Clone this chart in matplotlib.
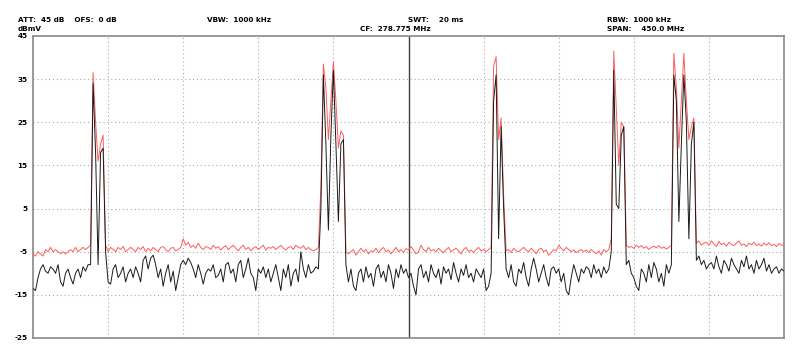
import numpy as np
import matplotlib
matplotlib.use("Agg")
import matplotlib.pyplot as plt

# ---- data ----
center_mhz = 278.775
span_mhz = 450.0
n_points = 301
header_texts = [
    ("ATT:  45 dB    OFS:  0 dB", 18, 20),
    ("VBW:  1000 kHz", 207, 20),
    ("SWT:    20 ms", 408, 20),
    ("RBW:  1000 kHz", 607, 20),
    ("dBmV", 18, 29),
    ("CF:  278.775 MHz", 360, 29),
    ("SPAN:    450.0 MHz", 607, 29),
]
y_ticks = [45, 35, 25, 15, 5, -5, -15, -25]

# max-hold trace (red)
trace_max = [
    -5.5, -6, -5, -5.5, -6, -4.5, -5, -4, -5, -4.5,
    -5, -5.5, -5, -5.5, -5, -4.5, -5, -4, -5, -4.5,
    -4, -4.5, -4, -3.5, 36.5, 25, 16, 20, 22, -3.5,
    -5, -4, -4.5, -5, -4, -4.5, -3.8, -5, -4.5, -4,
    -4.5, -5, -4, -4.5, -3.8, -5, -4.2, -4.8, -4, -4.5,
    -5, -4, -3.8, -4.5, -5, -4.2, -4, -4.8, -4.5, -4,
    -2, -3.5, -2.8, -4, -3.5, -4.2, -3, -4, -4.5, -3.8,
    -4, -4.5, -3.5, -4.2, -3.8, -4.6, -4, -3.6, -4.5, -4,
    -3.5, -4.2, -4.8, -4, -3.5, -4.5, -4, -4.8, -4.2, -3.8,
    -4.5, -4, -3.5, -4.6, -4, -4.2, -3.8, -4.5, -4, -3.5,
    -4.2, -4.6, -4, -3.8, -4.5, -3.5, -4, -4.2, -3.6, -4.5,
    -4, -4.5, -4.8, -4.5, -4, 10, 38.5, 33, 21, 30,
    39, 30, 19, 23, 22, -5, -5.5, -5, -4.5, -5.8,
    -5, -4.2, -5, -4.5, -5.5, -4.8, -5, -4.2, -5.2, -4.5,
    -4, -5, -4.6, -5.5, -4.8, -4, -5, -4.5, -5.2, -4.3,
    -4.5, -3.8, -4.6, -5.5, -5, -3.5, -4.5, -5, -4, -4.8,
    -4.5, -5, -4.2, -4.8, -5.2, -4.5, -4, -5, -4.6, -4.2,
    -4.8, -5.5, -4.5, -4, -5, -4.6, -5.2, -4.5, -4, -4.8,
    -4.5, -5, -4.5, -4, 38, 40.2, 21, 26, 8, -4.8,
    -4.5, -5.2, -4.2, -4.8, -5, -4.5, -4, -4.6, -5, -4.2,
    -4.8, -5.5, -4.5, -4.2, -5, -4.6, -5.8, -5.2, -4.5, -4.8,
    -3.5, -4.2, -4.8, -4, -4.5, -5, -4.6, -5.2, -4.8, -4.5,
    -5, -4.6, -5.2, -4.5, -5, -5.5, -4.8, -5.8, -4.5, -5,
    -4.5, -2, 41.5, 28, 15, 25, 24, -3.5, -4, -3.8,
    -4.2, -3.5, -4, -3.6, -4.2, -3.8, -4.5, -4, -3.7, -4.1,
    -3.6, -4.2, -3.9, -4.4, -4, -3.5, 41, 33, 19, 30,
    41, 30, 21, 24, 26, -3, -2.5, -3.5, -3, -2.8,
    -3.5, -2.5, -3.2, -3.8, -2.6, -3.4, -3, -3.7, -2.8, -3.3,
    -3.6, -3, -2.5, -3.5, -3.2, -3.8, -3, -3.4, -2.8, -3.6,
    -3.2, -3.7, -3, -3.5, -2.9, -3.6, -3.3, -3.8, -3.1, -3.5, -3.4,
]

# live trace (black)
trace_live = [
    -13.5, -14, -11, -9, -8, -9.5, -10, -8.5, -9, -10,
    -8, -12, -13, -10, -9, -11, -12.5, -10, -9, -11,
    -8.5, -9.5, -8, -8, 34, 18, -8, 18, 19, -5,
    -12, -12.5, -9, -8, -11, -10, -8.5, -12, -10, -9,
    -11, -8.5, -10, -12, -7, -6, -9, -6.5, -5.8, -8,
    -11, -9, -13, -10, -8, -12, -9.5, -14, -11, -8,
    -7, -8, -6.5, -7.5, -9, -11, -8, -10, -12.5, -10,
    -9, -9.5, -8, -11, -10.5, -9, -12, -8, -7.5, -10,
    -9, -12, -8, -7, -11, -9, -6.5, -10, -11, -14,
    -9, -10, -8.5, -11, -9, -12, -10, -8, -11, -14,
    -9, -11, -8, -13, -10, -9, -12, -5, -9, -11,
    -8, -10, -9.5, -8.5, -9, 5, 36, 20, 0, 22,
    37, 20, 2, 20, 21, -8, -12, -9, -13, -14,
    -10, -9, -12, -8.5, -11, -10, -13, -9, -8, -11,
    -9.5, -12, -8, -10, -13.5, -9, -11, -8, -10, -9,
    -11, -10, -13, -15, -9, -8, -11, -9.5, -12, -8,
    -10, -11, -9, -12.5, -8.5, -10, -9, -11.5, -7.5, -10,
    -12, -9, -10.5, -8, -11, -10, -12, -9, -10, -11,
    -9, -14, -13, -10, 30, 36, -2, 24, 5, -9,
    -11, -8, -12, -13, -9, -10, -7.5, -11, -13, -9,
    -6.5, -9, -12, -10, -8, -11, -13, -9, -8.5, -10,
    -9, -12, -10, -14, -15, -11, -8, -10, -12, -9,
    -10, -8.5, -9, -11, -8, -10, -9, -11, -8.5, -10,
    -9, -5, 37, 6, 5, 22, 24, -8, -7, -10,
    -11, -13, -14, -9, -10, -12, -8, -11, -7.5, -9,
    -12, -10, -13, -8, -10, -8, 36, 30, 2, 20,
    36, 25, -2, 20, 25, -7, -6, -8, -7, -9,
    -8, -7.5, -9, -6, -8.5, -10, -7, -8, -9.5, -6.5,
    -8, -9, -10, -7, -8.5, -6, -9, -8, -10, -7,
    -9, -8, -6.5, -9.5, -8, -10, -9, -8.5, -10, -9, -9.5,
]

# ---- figure ----
W, H = 800, 356
fig = plt.figure(figsize=(W / 100, H / 100), dpi=100)
ax = fig.add_axes([33 / W, 1 - 338 / H, (784 - 33) / W, (338 - 36) / H])

f_start = center_mhz - span_mhz / 2
f_stop = center_mhz + span_mhz / 2
freqs = np.linspace(f_start, f_stop, n_points)

ax.plot(freqs, trace_max, color="#ff5c5c", lw=0.7, zorder=3)
ax.plot(freqs, trace_live, color="#1a1a1a", lw=0.7, zorder=4)

ax.set_xlim(f_start, f_stop)
ax.set_ylim(-25, 45)
ax.set_xticks(np.linspace(f_start, f_stop, 11))
ax.set_xticklabels([])
ax.set_yticks(y_ticks)
ax.set_yticklabels([str(t) for t in y_ticks], fontsize=5.2, fontweight="bold")
ax.tick_params(length=0, pad=4)
ax.grid(True, color="#ababab", lw=0.8, linestyle=(0, (1, 2.5)))
ax.axvline(center_mhz, color="#404040", lw=1.0, zorder=2)
for s in ax.spines.values():
    s.set_color("#8a8a8a")
    s.set_linewidth(1.2)

for txt, px, py in header_texts:
    fig.text(px / W, 1 - py / H, txt, fontsize=5.2, fontweight="bold",
             ha="left", va="center")

fig.savefig("out.png", dpi=100)
